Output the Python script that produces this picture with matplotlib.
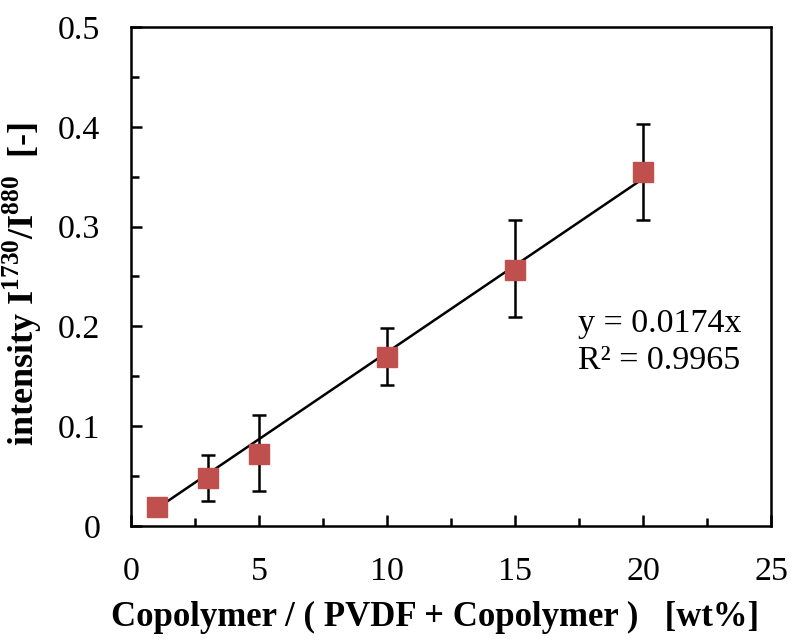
import numpy as np
import matplotlib.pyplot as plt
from matplotlib.ticker import MultipleLocator

plt.rcParams['font.family'] = ['Liberation Serif', 'DejaVu Serif']
plt.rcParams['mathtext.fontset'] = 'custom'
plt.rcParams['mathtext.rm'] = 'Liberation Serif'
plt.rcParams['mathtext.bf'] = 'Liberation Serif:bold'

# data
conc = np.array([1, 3, 5, 10, 15, 20])
ratio = np.array([0.019, 0.048, 0.072, 0.169, 0.257, 0.355])
err_hi = np.array([0.0, 0.071, 0.111, 0.198, 0.307, 0.403])
err_lo = np.array([0.0, 0.025, 0.035, 0.141, 0.209, 0.307])
slope = 0.0174
r2 = 0.9965

fig = plt.figure(figsize=(7.92, 6.41), dpi=100)
ax = fig.add_axes([131/792, 1 - 526/641, 640/792, 499/641])

yerr = [np.where(err_lo > 0, ratio - err_lo, 0), np.where(err_hi > 0, err_hi - ratio, 0)]
ax.errorbar(conc, ratio, yerr=yerr, fmt='none', ecolor='black', elinewidth=1.8,
            capsize=5, capthick=1.8, zorder=2)

# fitted line
xf = np.array([conc[0], conc[-1]])
ax.plot(xf, slope * xf, color='black', lw=1.8, zorder=3)
ax.plot(conc, ratio, 's', color='#C0504D', markersize=14.5, zorder=4)

ax.text(17.45, 0.184, f'y = {slope}x\nR² = {r2}', fontsize=24.5,
        linespacing=1.25, va='center', ha='left')

ax.set_xlim(0, 25)
ax.set_ylim(0, 0.5)
ax.xaxis.set_major_locator(MultipleLocator(5))
ax.xaxis.set_minor_locator(MultipleLocator(2.5))
ax.yaxis.set_minor_locator(MultipleLocator(0.05))
ax.set_yticks([0, 0.1, 0.2, 0.3, 0.4, 0.5])
ax.set_yticklabels(['0', '0.1', '0.2', '0.3', '0.4', '0.5'])
ax.tick_params(which='both', direction='in', top=False, right=False, width=1.8)
ax.tick_params(which='major', length=8, labelsize=24.5, pad=22)
ax.tick_params(which='minor', length=6)
for s in ax.spines.values():
    s.set_linewidth(1.8)

ax.set_xlabel('Copolymer / ( PVDF + Copolymer )   [wt%]', fontsize=25,
              fontweight='bold', labelpad=10)
ax.xaxis.label.set_x(0.475)
ax.set_ylabel(r'intensity I$^{\mathbf{1730}}$/I$^{\mathbf{880}}$  [-]', fontsize=26,
              fontweight='bold', labelpad=10)
ax.yaxis.label.set_y(0.485)

fig.savefig('out.png', dpi=100)
